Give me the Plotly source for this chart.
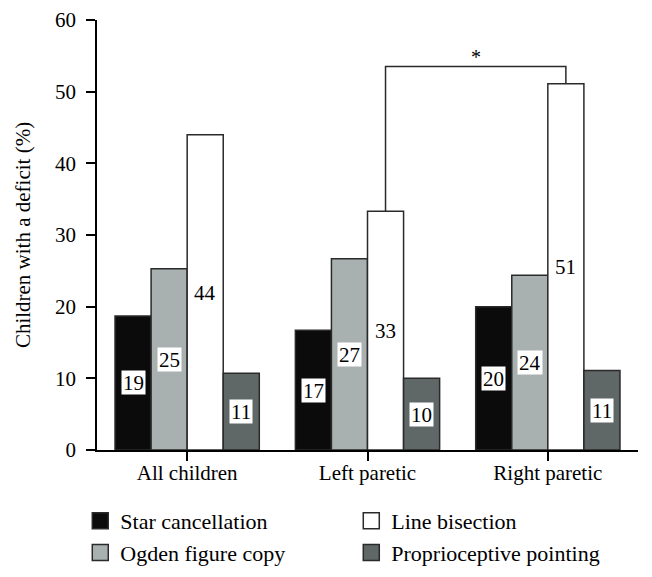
import plotly.graph_objects as go

# ---- data ----
categories = ["All children", "Left paretic", "Right paretic"]
series_names = ["Star cancellation", "Ogden figure copy", "Line bisection", "Proprioceptive pointing"]
star_cancellation = [18.7, 16.7, 20.0]
ogden_figure_copy = [25.3, 26.7, 24.4]
line_bisection = [44.0, 33.3, 51.1]
proprioceptive_pointing = [10.7, 10.0, 11.1]
bar_labels = {
    "Star cancellation": ["19", "17", "20"],
    "Ogden figure copy": ["25", "27", "24"],
    "Line bisection": ["44", "33", "51"],
    "Proprioceptive pointing": ["11", "10", "11"],
}
y_ticks = [0, 10, 20, 30, 40, 50, 60]
significance = {"between": ("Left paretic", "Right paretic"), "series": "Line bisection", "mark": "*"}

# ---- style ----
FONT = "Liberation Serif, Times New Roman, Times, DejaVu Serif, serif"
colors = {
    "Star cancellation": "#0b0b0b",
    "Ogden figure copy": "#a9b1b0",
    "Line bisection": "#ffffff",
    "Proprioceptive pointing": "#5f6767",
}
legend_rank = {"Star cancellation": 1, "Line bisection": 2, "Ogden figure copy": 3, "Proprioceptive pointing": 4}
EDGE = "#2a2a2a"
BARGAP = 0.2
BRACKET_Y = 53.5

values = {
    "Star cancellation": star_cancellation,
    "Ogden figure copy": ogden_figure_copy,
    "Line bisection": line_bisection,
    "Proprioceptive pointing": proprioceptive_pointing,
}

fig = go.Figure()
n_series = len(series_names)
bar_w = (1 - BARGAP) / n_series

for i, name in enumerate(series_names):
    fig.add_trace(go.Bar(
        x=categories, y=values[name], name=name, showlegend=False,
        marker=dict(color=colors[name], line=dict(color=EDGE, width=1.5)),
    ))
    # legend proxy with larger square symbol
    fig.add_trace(go.Scatter(
        x=[None], y=[None], mode="markers", name=name, legendrank=legend_rank[name],
        marker=dict(symbol="square", size=16, color=colors[name], line=dict(color=EDGE, width=1.5)),
    ))
    for j, cat in enumerate(categories):
        fig.add_annotation(
            x=j + (i - (n_series - 1) / 2) * bar_w, y=values[name][j] / 2,
            xref="x", yref="y", text=bar_labels[name][j], showarrow=False,
            bgcolor="white", borderpad=1, height=21,
            font=dict(family=FONT, size=21, color="black"),
        )

# significance bracket
s_idx = series_names.index(significance["series"])
off = (s_idx - (n_series - 1) / 2) * bar_w
a, b = (categories.index(c) for c in significance["between"])
xa, xb = a + off, b + off
ya, yb = values[significance["series"]][a], values[significance["series"]][b]
fig.add_shape(type="path", xref="x", yref="y",
              path=f"M {xa},{ya} L {xa},{BRACKET_Y} L {xb},{BRACKET_Y} L {xb},{yb}",
              line=dict(color=EDGE, width=1.5))
fig.add_annotation(x=(xa + xb) / 2, y=BRACKET_Y, xref="x", yref="y", text=significance["mark"],
                   showarrow=False, yanchor="bottom", yshift=-3,
                   font=dict(family=FONT, size=20, color="black"))

# page body has an 8px margin, so the figure is 8px smaller than the window
fig.update_layout(
    width=644, height=569,
    margin=dict(l=89, r=14, t=12, b=127, autoexpand=False),
    barmode="group", bargap=BARGAP, bargroupgap=0,
    plot_bgcolor="white", paper_bgcolor="white",
    font=dict(family=FONT, size=21, color="black"),
    legend=dict(orientation="h", x=-0.0309, xanchor="left", y=-0.1163, yanchor="top",
                entrywidth=226, entrywidthmode="pixels",
                font=dict(family=FONT, size=22, color="black"),
                bgcolor="rgba(0,0,0,0)", tracegroupgap=0, itemclick=False),
)
fig.update_xaxes(
    showline=True, linecolor="black", linewidth=1.5,
    ticks="outside", ticklen=9, tickwidth=1.5, tickcolor="black",
    tickfont=dict(family=FONT, size=21), showgrid=False,
    ticklabelstandoff=-6,
    range=[-0.5, len(categories) - 0.5], automargin=False,
)
fig.update_yaxes(
    range=[0, 60], tickvals=y_ticks, showline=True, linecolor="black", linewidth=1.5,
    ticks="outside", ticklen=9, tickwidth=1.5, tickcolor="black",
    tickfont=dict(family=FONT, size=21), showgrid=False, zeroline=False,
    ticklabelstandoff=6,
    title=dict(text="Children with a deficit (%)", font=dict(family=FONT, size=21), standoff=19),
    automargin=False,
)

fig.write_html("out.html")
